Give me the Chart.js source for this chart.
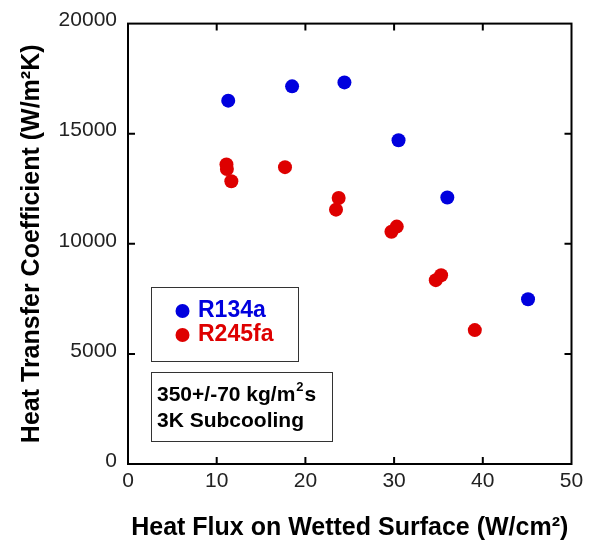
<!DOCTYPE html>
<html>
<head>
<meta charset="utf-8">
<script src="https://cdn.jsdelivr.net/npm/chart.js@4/dist/chart.umd.min.js"></script>
<style>
  html, body { margin: 0; padding: 0; background: #ffffff; }
  #wrap { width: 590px; height: 542px; position: relative; }
</style>
</head>
<body>
<div id="wrap"><canvas id="c" width="590" height="542"></canvas></div>
<script>
// ---- data ----
const seriesNames = ["R134a", "R245fa"];
const r134aFlux = [11.3, 18.5, 24.4, 30.5, 36.0, 45.1];
const r134aHTC  = [16500, 17150, 17330, 14700, 12100, 7480];
const r245faFlux = [11.1, 11.15, 11.65, 17.7, 23.75, 23.45, 29.7, 30.3, 34.7, 35.3, 39.1];
const r245faHTC  = [13600, 13400, 12840, 13480, 12080, 11550, 10550, 10780, 8350, 8570, 6080];
const xTickValues = [0, 10, 20, 30, 40, 50];
const yTickValues = [0, 5000, 10000, 15000, 20000];
const xTitle = "Heat Flux on Wetted Surface (W/cm\u00B2)";
const yTitle = "Heat Transfer Coefficient (W/m\u00B2K)";
const noteLine1 = ["350+/-70 kg/m", "2", "s"];
const noteLine2 = "3K Subcooling";

const BLUE = "rgb(0,0,222)";
const RED = "rgb(222,0,0)";
const FONT = "'Liberation Sans', Arial, Helvetica, sans-serif";

function toPoints(xs, ys) { return xs.map((x, i) => ({ x: x, y: ys[i] })); }

const framePlugin = {
  id: "frame",
  afterDraw(chart) {
    const ctx = chart.ctx;
    const a = chart.chartArea;
    const xs = chart.scales.x, ys = chart.scales.y;
    ctx.save();
    ctx.strokeStyle = "#000";
    ctx.lineWidth = 2;
    ctx.strokeRect(a.left, a.top, a.right - a.left, a.bottom - a.top);
    const tl = 7;
    ctx.beginPath();
    xTickValues.forEach(v => {
      if (v === xs.min || v === xs.max) return;
      const px = xs.getPixelForValue(v);
      ctx.moveTo(px, a.bottom); ctx.lineTo(px, a.bottom - tl);
      ctx.moveTo(px, a.top); ctx.lineTo(px, a.top + tl);
    });
    yTickValues.forEach(v => {
      if (v === ys.min || v === ys.max) return;
      const py = ys.getPixelForValue(v);
      ctx.moveTo(a.left, py); ctx.lineTo(a.left + tl, py);
      ctx.moveTo(a.right, py); ctx.lineTo(a.right - tl, py);
    });
    ctx.stroke();

    // legend box
    ctx.lineWidth = 1;
    ctx.strokeStyle = "#333";
    ctx.strokeRect(151.5, 287.5, 147, 74);
    const legendY = [311, 335];
    chart.data.datasets.forEach((ds, i) => {
      ctx.fillStyle = ds.backgroundColor;
      ctx.beginPath();
      ctx.arc(182.5, legendY[i], 7, 0, Math.PI * 2);
      ctx.fill();
      ctx.font = "bold 23px " + FONT;
      ctx.textBaseline = "middle";
      ctx.textAlign = "left";
      ctx.fillText(ds.label, 198, legendY[i]);
    });

    // note box
    ctx.strokeRect(151.5, 372.5, 181, 69);
    ctx.fillStyle = "#000";
    ctx.textBaseline = "alphabetic";
    ctx.font = "bold 21px " + FONT;
    let x = 157;
    ctx.fillText(noteLine1[0], x, 401);
    x += ctx.measureText(noteLine1[0]).width;
    ctx.font = "bold 13px " + FONT;
    ctx.fillText(noteLine1[1], x + 1, 391);
    x += ctx.measureText(noteLine1[1]).width + 2;
    ctx.font = "bold 21px " + FONT;
    ctx.fillText(noteLine1[2], x, 401);
    ctx.fillText(noteLine2, 157, 427);
    ctx.restore();
  }
};

new Chart(document.getElementById("c"), {
  type: "scatter",
  data: {
    datasets: [
      { label: seriesNames[0], data: toPoints(r134aFlux, r134aHTC), backgroundColor: BLUE, borderColor: BLUE, pointRadius: 7, pointBorderWidth: 0 },
      { label: seriesNames[1], data: toPoints(r245faFlux, r245faHTC), backgroundColor: RED, borderColor: RED, pointRadius: 7, pointBorderWidth: 0 }
    ]
  },
  options: {
    responsive: false,
    animation: false,
    layout: { padding: { top: 22, right: 18.5, bottom: 0, left: 0 } },
    plugins: { legend: { display: false }, tooltip: { enabled: false } },
    scales: {
      x: {
        type: "linear", min: 0, max: 50,
        afterBuildTicks(s) { s.ticks = xTickValues.map(v => ({ value: v })); },
        afterFit(s) { s.height = 78; },
        grid: { display: false, drawTicks: false },
        border: { display: false },
        ticks: { padding: 5, color: "#222", font: { family: FONT, size: 21 }, callback: v => String(v) },
        title: { display: true, text: xTitle, color: "#000", padding: { top: 0, bottom: 1 }, font: { family: FONT, size: 25, weight: "bold", lineHeight: 1 } }
      },
      y: {
        type: "linear", min: 0, max: 20000,
        afterBuildTicks(s) { s.ticks = yTickValues.map(v => ({ value: v })); },
        afterFit(s) { s.width = 128; },
        grid: { display: false, drawTicks: false },
        border: { display: false },
        ticks: { padding: 11, labelOffset: -3, color: "#222", font: { family: FONT, size: 21 }, callback: v => String(v) },
        title: { display: true, text: yTitle, color: "#000", padding: { top: 20, bottom: 0 }, font: { family: FONT, size: 25, weight: "bold", lineHeight: 1 } }
      }
    }
  },
  plugins: [framePlugin]
});
</script>
</body>
</html>
